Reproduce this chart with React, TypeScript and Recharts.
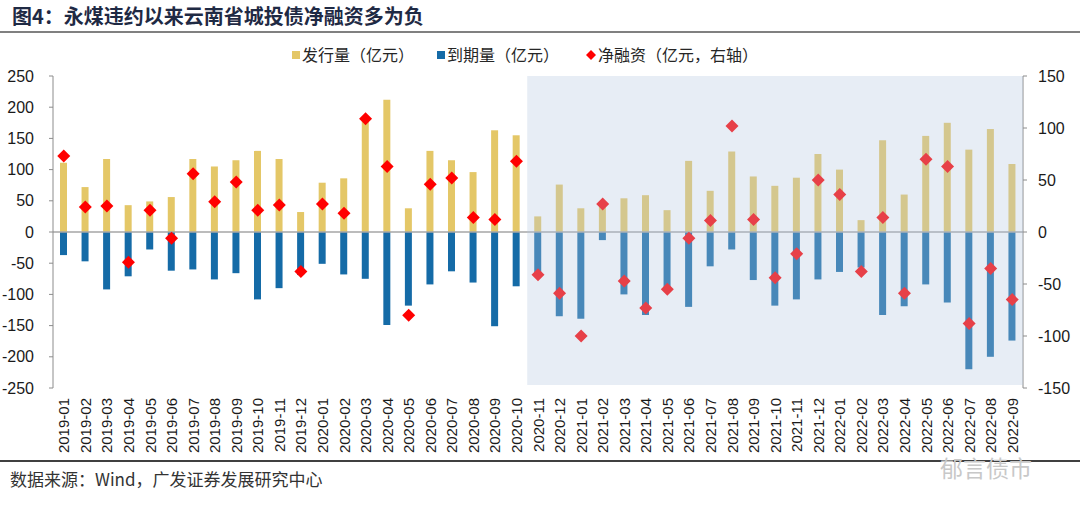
import {
  Bar,
  ComposedChart,
  ReferenceArea,
  ReferenceLine,
  Scatter,
  XAxis,
  YAxis,
} from "recharts";

const months = [
  "2019-01", "2019-02", "2019-03", "2019-04", "2019-05", "2019-06", "2019-07", "2019-08", "2019-09",
  "2019-10", "2019-11", "2019-12", "2020-01", "2020-02", "2020-03", "2020-04", "2020-05", "2020-06",
  "2020-07", "2020-08", "2020-09", "2020-10", "2020-11", "2020-12", "2021-01", "2021-02", "2021-03",
  "2021-04", "2021-05", "2021-06", "2021-07", "2021-08", "2021-09", "2021-10", "2021-11", "2021-12",
  "2022-01", "2022-02", "2022-03", "2022-04", "2022-05", "2022-06", "2022-07", "2022-08", "2022-09",
];

// 发行量（亿元）
const issuance = [
  111, 72, 117, 43, 49, 56, 117, 105, 115, 130, 117, 32, 79, 86, 181, 212, 38, 130, 115, 96, 163, 155,
  25, 76, 38, 40, 54, 59, 35, 114, 66, 129, 89, 74, 87, 125, 100, 19, 147, 60, 154, 175, 132, 165, 109,
];

// 到期量（亿元）
const maturity = [
  -37, -47, -92, -71, -28, -62, -60, -76, -66, -108, -90, -69, -51, -68, -75, -149, -118, -84, -63, -81,
  -151, -87, -65, -135, -139, -13, -100, -133, -90, -120, -55, -28, -77, -118, -108, -76, -64, -57, -133,
  -119, -84, -113, -220, -200, -174,
];

// 净融资（亿元，右轴）
const netFinancing = [
  73, 24, 25, -29, 21, -6, 56, 29, 48, 21, 26, -38, 27, 18, 109, 63, -80, 46, 52, 14, 12, 68, -41, -59,
  -100, 27, -47, -73, -55, -6, 11, 102, 12, -44, -21, 50, 36, -38, 14, -59, 70, 63, -88, -35, -65,
];

const leftTicks = [-250, -200, -150, -100, -50, 0, 50, 100, 150, 200, 250];
const rightTicks = [-150, -100, -50, 0, 50, 100, 150];

const data = months.map((month, i) => ({
  month,
  issuance: issuance[i],
  maturity: maturity[i],
  net: netFinancing[i],
}));

const GOLD = "#E4C767";
const BLUE = "#156BA7";
const RED = "#FF0000";
const CJK = '"Noto Sans CJK SC", "Liberation Sans", sans-serif';
const NUM = '"Liberation Sans", Arial, sans-serif';

const Diamond = (props: any) => {
  const { cx, cy } = props;
  const r = 6.5;
  return <path d={`M${cx},${cy - r}L${cx + r},${cy}L${cx},${cy + r}L${cx - r},${cy}Z`} fill={RED} />;
};

const MonthTick = (props: any) => {
  const { x, y, payload } = props;
  return (
    <text
      x={x}
      y={y}
      transform={`rotate(-90, ${x}, ${y})`}
      textAnchor="end"
      dominantBaseline="central"
      fontSize={15}
      fontFamily={NUM}
      fill="#1a1a1a"
    >
      {payload.value}
    </text>
  );
};

const legendText = { fontFamily: CJK, fontSize: 16, color: "#262626" };

export default function App() {
  return (
    <div style={{ position: "absolute", left: 0, top: 0, width: 1080, height: 511, background: "#fff" }}>
      <div
        style={{
          position: "absolute",
          left: 12,
          top: 1,
          fontFamily: CJK,
          fontSize: 20,
          fontWeight: 700,
          color: "#1F2A44",
          whiteSpace: "nowrap",
        }}
      >
        图4：永煤违约以来云南省城投债净融资多为负
      </div>
      <div style={{ position: "absolute", left: 0, top: 31, width: 1080, height: 2, background: "#808080" }} />

      <div style={{ position: "absolute", top: 45, left: 0, whiteSpace: "nowrap" }}>
        <span style={{ position: "absolute", left: 292, top: 6, width: 8, height: 8, background: GOLD }} />
        <span style={{ ...legendText, position: "absolute", left: 302, top: -3 }}>发行量（亿元）</span>
        <span style={{ position: "absolute", left: 437, top: 6, width: 8, height: 8, background: BLUE }} />
        <span style={{ ...legendText, position: "absolute", left: 447, top: -3 }}>到期量（亿元）</span>
        <svg style={{ position: "absolute", left: 586, top: 5 }} width={10} height={10}>
          <path d="M5,0L10,5L5,10L0,5Z" fill={RED} />
        </svg>
        <span style={{ ...legendText, position: "absolute", left: 598, top: -3 }}>净融资（亿元，右轴）</span>
      </div>

      <div style={{ position: "absolute", left: 0, top: 0 }}>
        <ComposedChart
          width={1080}
          height={511}
          data={data}
          stackOffset="sign"
          margin={{ top: 76, right: 7, left: 8, bottom: 53 }}
        >
          <XAxis
            dataKey="month"
            xAxisId="x"
            interval={0}
            tick={<MonthTick />}
            tickLine={false}
            axisLine={false}
            tickSize={0}
            tickMargin={10}
            height={70}
          />
          <YAxis
            yAxisId="left"
            domain={[-250, 250]}
            ticks={leftTicks}
            width={45}
            tickSize={4}
            tickMargin={15}
            stroke="#8C8C8C"
            tick={{ fill: "#1a1a1a", fontSize: 16, fontFamily: NUM }}
          />
          <YAxis
            yAxisId="right"
            orientation="right"
            domain={[-150, 150]}
            ticks={rightTicks}
            width={50}
            tickSize={4}
            tickMargin={11}
            stroke="#8C8C8C"
            tick={{ fill: "#1a1a1a", fontSize: 16, fontFamily: NUM }}
          />
          <ReferenceLine xAxisId="x" yAxisId="left" y={0} stroke="#A6A6A6" strokeWidth={1.5} />
          <Bar
            xAxisId="x"
            yAxisId="left"
            dataKey="issuance"
            stackId="a"
            fill={GOLD}
            barSize={7}
            isAnimationActive={false}
          />
          <Bar
            xAxisId="x"
            yAxisId="left"
            dataKey="maturity"
            stackId="a"
            fill={BLUE}
            barSize={7}
            isAnimationActive={false}
          />
          <Scatter
            xAxisId="x"
            yAxisId="right"
            dataKey="net"
            shape={<Diamond />}
            isAnimationActive={false}
          />
          <ReferenceArea
            xAxisId="x"
            yAxisId="left"
            x1="2020-11"
            x2="2022-09"
            y1={-245}
            y2={250}
            fill="rgb(180,200,224)"
            fillOpacity={0.32}
            stroke="none"
            ifOverflow="visible"
            {...({ zIndex: 2000 } as any)}
          />
        </ComposedChart>
      </div>

      <div style={{ position: "absolute", left: 0, top: 460, width: 1080, height: 1.5, background: "#404040" }} />
      <div
        style={{
          position: "absolute",
          left: 10,
          top: 466,
          fontFamily: CJK,
          fontSize: 17,
          color: "#333",
          whiteSpace: "nowrap",
        }}
      >
        数据来源：Wind，广发证券发展研究中心
      </div>
      <div
        style={{
          position: "absolute",
          left: 940,
          top: 450,
          fontFamily: CJK,
          fontSize: 23,
          color: "#C8C8C8",
          whiteSpace: "nowrap",
        }}
      >
        郁言债市
      </div>
    </div>
  );
}
